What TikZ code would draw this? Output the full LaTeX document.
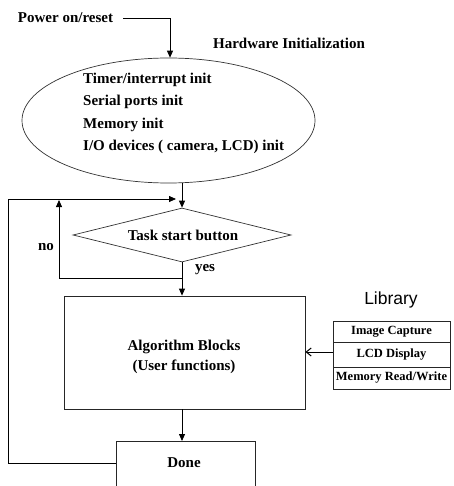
\documentclass[tikz,border=0pt]{standalone}
\usepackage{fontspec}
\setmainfont{Liberation Serif}
\newfontfamily\libsans{Liberation Sans}
\usetikzlibrary{shapes.geometric,arrows.meta,calc}
\begin{document}
\begin{tikzpicture}[x=1pt,y=-1pt,
  every node/.style={font=\fontsize{15}{17}\selectfont\bfseries, inner sep=0pt},
  shp/.style={draw=black!80, line width=0.7pt},
  boxs/.style={draw=black!85, line width=0.8pt},
  ln/.style={draw=black, line width=0.8pt},
  arr/.style={ln, -{Triangle[length=7pt,width=6pt]}},
  libcell/.style={boxs, minimum width=117pt, font=\fontsize{12.5}{14}\selectfont\bfseries}]
\clip (0,0) rectangle (453,486);
\fill[white] (0,0) rectangle (453,486);

% top
\node (pw) at (65.5,18) {Power on/reset};
\node (hwt) at (289,43) {Hardware Initialization};
\node[ellipse, shp, minimum width=293pt, minimum height=125pt] (hw) at (168.5,120.5) {};
\node[anchor=west, align=left, font=\fontsize{15}{22.4}\selectfont\bfseries] (hwtxt) at (83,113.5)
  {Timer/interrupt init\\Serial ports init\\Memory init\\I/O devices ( camera, LCD) init};

% decision
\node[diamond, shp, minimum width=218pt, minimum height=54pt, aspect=4] (dm) at (182,235) {};
\node (dmt) at (183,235) {Task start button};
\node (no) at (46,247) {no};
\node (yes) at (205,270) {yes};

% algorithm
\node[rectangle, boxs, minimum width=241pt, minimum height=113pt] (alg) at (184.5,352.5) {};
\node[align=center, font=\fontsize{15}{20}\selectfont\bfseries] (algt) at (184,357) {Algorithm Blocks\\(User functions)};

% done
\node[rectangle, boxs, minimum width=139pt, minimum height=70pt, anchor=north] (done) at (185.5,441) {};
\node (donet) at (184,463) {Done};

% library
\node[font=\libsans\fontsize{17.5}{20}\selectfont] (libt) at (391,300) {Library};
\node[libcell, minimum height=21pt] (l1) at (391.5,331.5) {Image Capture};
\node[libcell, minimum height=25pt] (l2) at (391.5,354.5) {LCD Display};
\node[libcell, minimum height=22pt] (l3) at (391.5,378) {Memory Read/Write};

% connectors
\coordinate (j) at (182,199);
\coordinate (nb) at (182,278);
\coordinate (lx) at (8,199);
\draw[arr] ([xshift=10pt]pw.east) -| ([xshift=1.5pt]hw.north);
\draw[arr] (hw.south -| dm.north) -- (dm.north);
\draw[ln] (dm.south) -- (nb);
\draw[arr] (nb) -| (59,200);
\draw[arr] (nb) -- (nb |- alg.north);
\draw[arr] (alg.south -| dm.south) -- (dm.south |- done.north);
\draw[arr] (donet -| done.west) -| (lx) -- ([xshift=-6pt]j);
\draw[ln, line width=1pt, -{Straight Barb[length=5pt,width=8pt]}] ([yshift=2.5pt]l2.west) -- ([yshift=2.5pt]l2.west -| alg.east);
\end{tikzpicture}
\end{document}
